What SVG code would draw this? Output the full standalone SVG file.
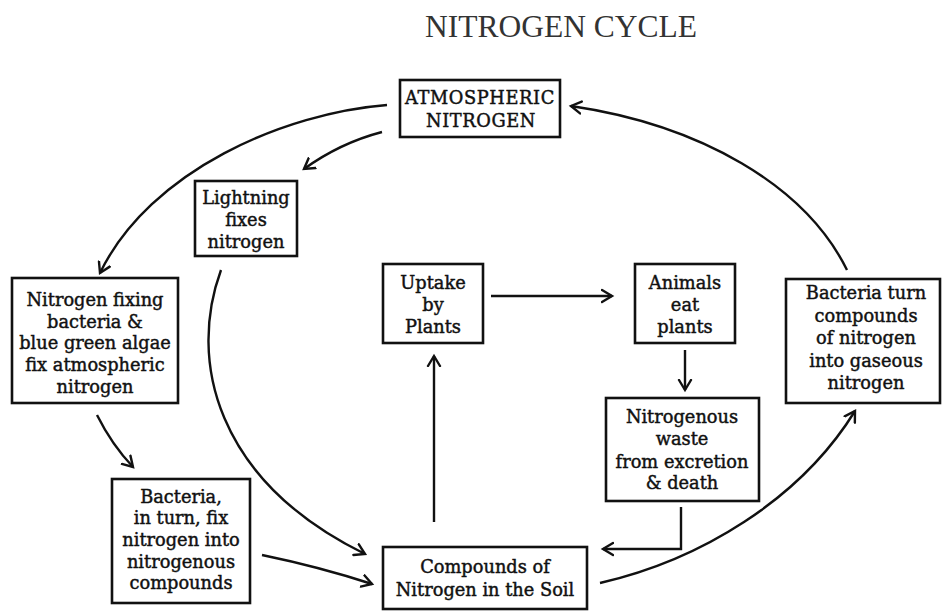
<svg xmlns="http://www.w3.org/2000/svg" width="943" height="611" viewBox="0 0 943 611">
<style>
  .box { fill: #fff; stroke: #111; stroke-width: 2.6; }
  .lbl { font-family: "DejaVu Serif", "Liberation Serif", serif; font-size: 17.8px; fill: #111; stroke: #111; stroke-width: 0.45; text-anchor: middle; }
  .conn { fill: none; stroke: #111; stroke-width: 2.4; marker-end: url(#ah); }
  .title { font-family: "Liberation Serif", serif; font-size: 31.5px; fill: #333; text-anchor: middle; }
</style>
<defs>
  <marker id="ah" markerUnits="userSpaceOnUse" markerWidth="16" markerHeight="16" refX="11" refY="7" orient="auto" viewBox="0 0 16 14">
    <path d="M1,1 L11,7 L1,13" fill="none" stroke="#111" stroke-width="2.4" stroke-linecap="round" stroke-linejoin="miter"/>
  </marker>
</defs>
<rect width="943" height="611" fill="#fff"/>
<text class="title" x="561" y="37">NITROGEN CYCLE</text>

<g id="connectors">
  <path class="conn" d="M387,105 C285,113 150,170 100,273"/>
  <path class="conn" d="M382,132 Q340,143 304,169"/>
  <path class="conn" d="M221,270 C188,360 215,480 365,554"/>
  <path class="conn" d="M97,415 Q112,445 133,467"/>
  <path class="conn" d="M262,555 Q320,567 372,584"/>
  <path class="conn" d="M434,522 L434,356"/>
  <path class="conn" d="M491,296 L612,296"/>
  <path class="conn" d="M685,350 L685,390"/>
  <path class="conn" d="M681,507 L681,549 L603,549"/>
  <path class="conn" d="M600,583 C700,560 800,500 855,411"/>
  <path class="conn" d="M847,270 C805,185 700,125 571,106"/>
</g>

<g id="atmospheric">
  <rect class="box" x="400" y="80" width="160" height="57"/>
  <text class="lbl" x="480" y="104" font-size="16.5" letter-spacing="0.6">ATMOSPHERIC</text>
  <text class="lbl" x="481" y="127" font-size="16.5" letter-spacing="0.6">NITROGEN</text>
</g>
<g id="lightning">
  <rect class="box" x="195" y="181" width="102" height="75"/>
  <text class="lbl" x="246" y="204">Lightning</text>
  <text class="lbl" x="246" y="226">fixes</text>
  <text class="lbl" x="246" y="248">nitrogen</text>
</g>
<g id="nfixing">
  <rect class="box" x="12" y="278" width="166" height="125"/>
  <text class="lbl" x="95" y="306">Nitrogen fixing</text>
  <text class="lbl" x="95" y="328">bacteria &amp;</text>
  <text class="lbl" x="95" y="349">blue green algae</text>
  <text class="lbl" x="95" y="371">fix atmospheric</text>
  <text class="lbl" x="95" y="393">nitrogen</text>
</g>
<g id="bacteria-fix">
  <rect class="box" x="112" y="479" width="138" height="124"/>
  <text class="lbl" x="181" y="503">Bacteria,</text>
  <text class="lbl" x="181" y="524">in turn, fix</text>
  <text class="lbl" x="181" y="546">nitrogen into</text>
  <text class="lbl" x="181" y="568">nitrogenous</text>
  <text class="lbl" x="181" y="589">compounds</text>
</g>
<g id="compounds">
  <rect class="box" x="383" y="547" width="204" height="62"/>
  <text class="lbl" x="485" y="573">Compounds of</text>
  <text class="lbl" x="485" y="596">Nitrogen in the Soil</text>
</g>
<g id="uptake">
  <rect class="box" x="383" y="264" width="100" height="79"/>
  <text class="lbl" x="433" y="289">Uptake</text>
  <text class="lbl" x="433" y="311">by</text>
  <text class="lbl" x="433" y="333">Plants</text>
</g>
<g id="animals">
  <rect class="box" x="635" y="264" width="100" height="79"/>
  <text class="lbl" x="685" y="289">Animals</text>
  <text class="lbl" x="685" y="311">eat</text>
  <text class="lbl" x="685" y="333">plants</text>
</g>
<g id="waste">
  <rect class="box" x="606" y="398" width="153" height="103"/>
  <text class="lbl" x="682" y="423">Nitrogenous</text>
  <text class="lbl" x="682" y="445">waste</text>
  <text class="lbl" x="682" y="468">from excretion</text>
  <text class="lbl" x="682" y="489">&amp; death</text>
</g>
<g id="bacteria-turn">
  <rect class="box" x="786" y="279" width="154" height="124"/>
  <text class="lbl" x="866" y="299">Bacteria turn</text>
  <text class="lbl" x="866" y="322">compounds</text>
  <text class="lbl" x="866" y="344">of nitrogen</text>
  <text class="lbl" x="866" y="367">into gaseous</text>
  <text class="lbl" x="866" y="389">nitrogen</text>
</g>
</svg>
